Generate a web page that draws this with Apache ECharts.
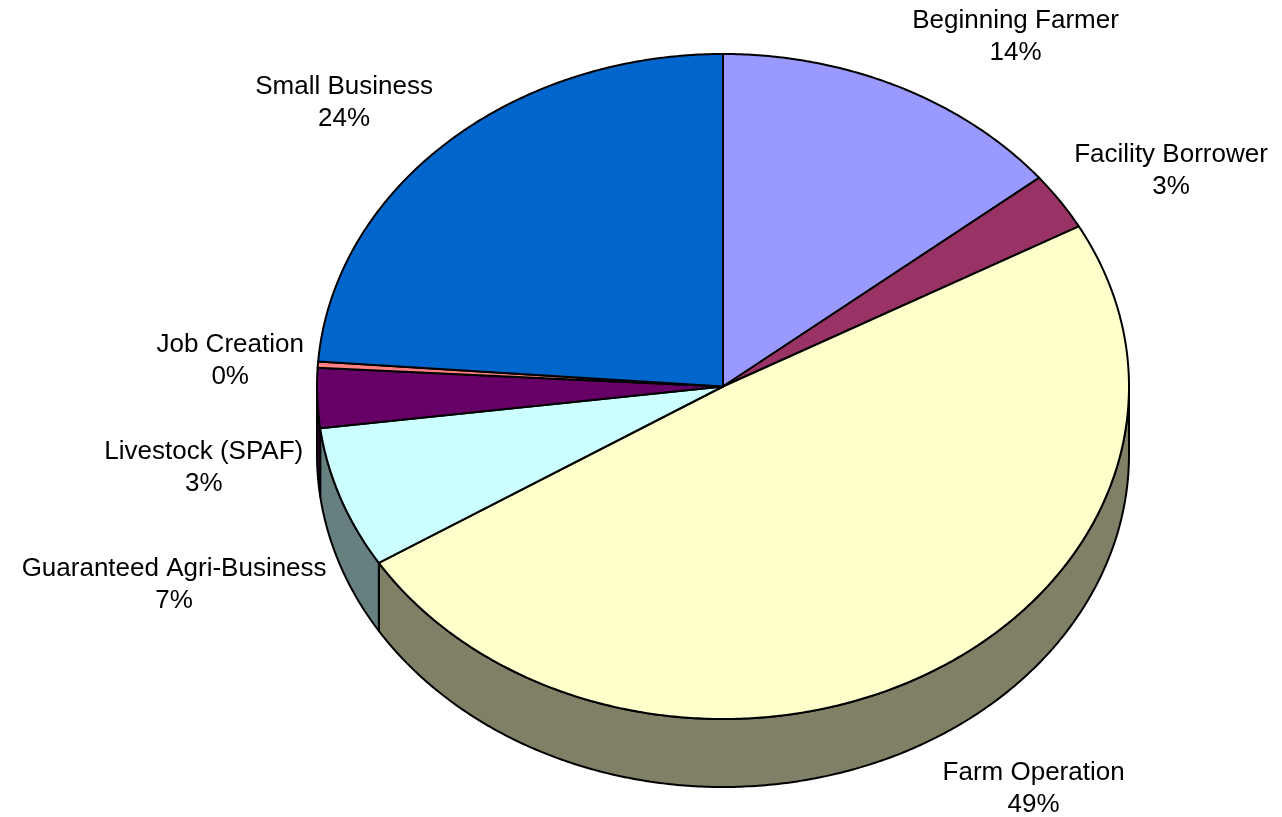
<!DOCTYPE html>
<html>
<head>
<meta charset="utf-8">
<script src="https://cdn.jsdelivr.net/npm/echarts@6/dist/echarts.min.js"></script>
<style>
html,body{margin:0;padding:0;background:#fff;}
#chart{width:1282px;height:817px;}
</style>
</head>
<body>
<div id="chart"></div>
<script>
// ---- data ----
const categories = ['Beginning Farmer', 'Facility Borrower', 'Farm Operation', 'Guaranteed Agri-Business', 'Livestock (SPAF)', 'Job Creation', 'Small Business'];
const shares = [14.2, 2.8, 49.1, 6.9, 2.9, 0.3, 23.8];
const colors = ['#9999FF', '#993366', '#FFFFCC', '#CCFFFF', '#660066', '#FF8080', '#0066CC'];

// ---- layout / style ----
const L = { cx: 723, cy: 386.5, rx: 406, ry: 332.5, depth: 68, gap: 14, vOff: 55 };
const FONT_SIZE = 26, LINE_H = 32, FONT_FAMILY = '"Liberation Sans", Arial, sans-serif';

const total = shares.reduce((a, b) => a + b, 0);
const cum = [0];
shares.forEach((v, i) => cum.push(cum[i] + v));

const measureCtx = document.createElement('canvas').getContext('2d');
measureCtx.font = FONT_SIZE + 'px ' + FONT_FAMILY;
function textWidth(lines) {
  return Math.max.apply(null, lines.map(l => measureCtx.measureText(l).width));
}
function shade(hex, f) {
  const n = parseInt(hex.slice(1), 16);
  const r = Math.round(((n >> 16) & 255) * f), g = Math.round(((n >> 8) & 255) * f), b = Math.round((n & 255) * f);
  return 'rgb(' + r + ',' + g + ',' + b + ')';
}
function pt(t, dy) {
  const a = t * Math.PI / 180;
  return [L.cx + L.rx * Math.sin(a), L.cy - L.ry * Math.cos(a) + dy];
}
function arc(a, b, dy) {
  const n = Math.max(2, Math.ceil(Math.abs(b - a) / 0.5));
  const pts = [];
  for (let k = 0; k <= n; k++) pts.push(pt(a + (b - a) * k / n, dy));
  return pts;
}

function renderItem(params, api) {
  const i = params.dataIndex;
  const v = api.value(0);
  const start = cum[i] / total * 360;
  const end = start + v / total * 360;
  const children = [];
  // side (front wall)
  const s = Math.max(start, 90), e = Math.min(end, 270);
  if (e > s) {
    const pts = arc(s, e, 0).concat(arc(e, s, L.depth));
    children.push({
      type: 'polygon', z2: 1, silent: true,
      shape: { points: pts },
      style: { fill: shade(colors[i], 0.5), stroke: '#000', lineWidth: 2, lineJoin: 'round' }
    });
  }
  // top face
  const topPts = [[L.cx, L.cy]].concat(arc(start, end, 0));
  children.push({
    type: 'polygon', z2: 10, silent: true,
    shape: { points: topPts },
    style: { fill: colors[i], stroke: '#000', lineWidth: 2, lineJoin: 'round' }
  });
  // label
  const mid = (start + end) / 2;
  const ar = mid * Math.PI / 180;
  const sn = Math.sin(ar), cs = Math.cos(ar);
  const p = pt(mid, cs < 0 ? L.depth : 0);
  const lines = [categories[i], Math.round(v / total * 100) + '%'];
  const w = textWidth(lines);
  const bx = p[0] + (sn >= 0 ? 1 : -1) * (L.gap + w / 2);
  const by = p[1] - cs * L.vOff;
  children.push({
    type: 'text', z2: 20, silent: true,
    style: {
      text: lines.join('\n'), x: bx, y: by, align: 'center', verticalAlign: 'middle',
      fontSize: FONT_SIZE, fontFamily: FONT_FAMILY, lineHeight: LINE_H, fill: '#000'
    }
  });
  return { type: 'group', children: children };
}

const chart = echarts.init(document.getElementById('chart'), null, { renderer: 'canvas' });
chart.setOption({
  backgroundColor: '#ffffff',
  animation: false,
  series: [{
    type: 'custom',
    coordinateSystem: 'none',
    renderItem: renderItem,
    data: shares.map((v, i) => ({ name: categories[i], value: v }))
  }]
});
</script>
</body>
</html>
